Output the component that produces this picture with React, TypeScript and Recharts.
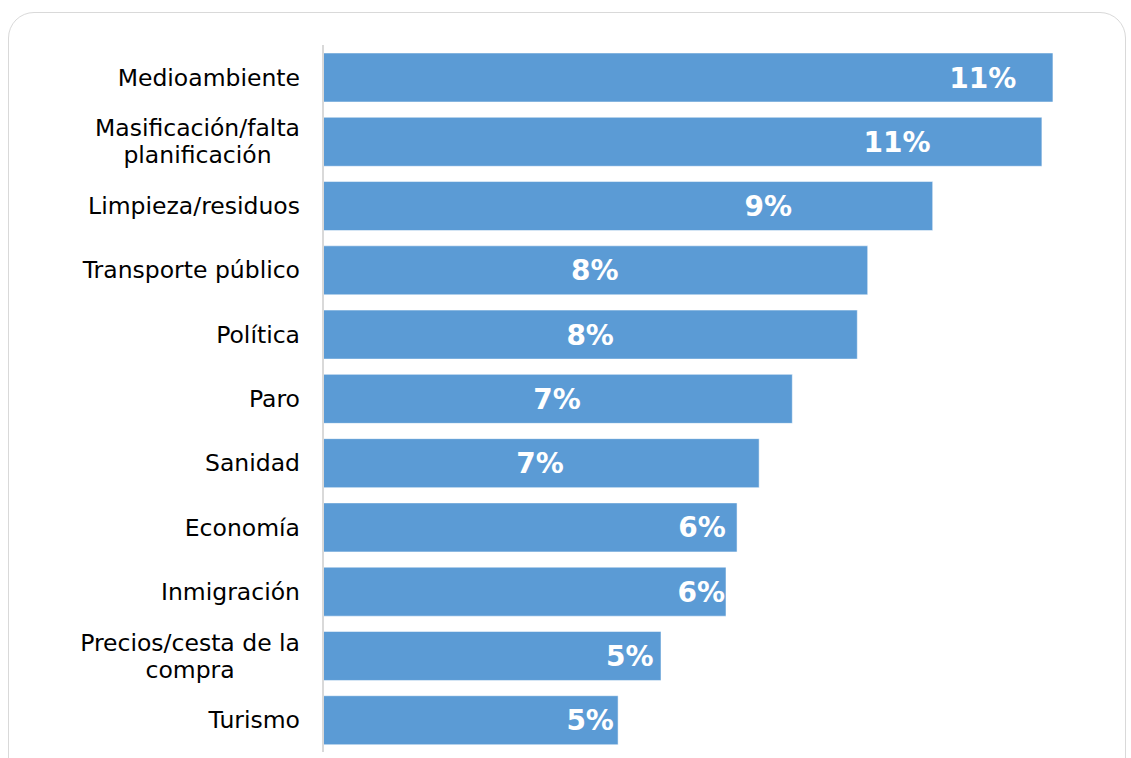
import { BarChart, Bar, XAxis, YAxis, LabelList } from 'recharts';

// Categories, top to bottom (line breaks where the label wraps)
const categories = [
  'Medioambiente',
  'Masificación/falta\nplanificación',
  'Limpieza/residuos',
  'Transporte público',
  'Política',
  'Paro',
  'Sanidad',
  'Economía',
  'Inmigración',
  'Precios/cesta de la\ncompra',
  'Turismo',
];

// Share of mentions (%)
const values = [11.23, 11.06, 9.38, 8.38, 8.22, 7.22, 6.71, 6.37, 6.2, 5.2, 4.54];

// Printed labels
const labels = ['11%', '11%', '9%', '8%', '8%', '7%', '7%', '6%', '6%', '5%', '5%'];

// Where each label sits along the bar, in value units
const labelAnchor = [10.15, 8.83, 6.85, 4.18, 4.11, 3.6, 3.34, 5.83, 5.82, 4.72, 4.11];

const chartData = categories.map((name, i) => ({
  name,
  value: values[i],
  label: labels[i],
  anchor: labelAnchor[i],
}));

const FONT = '"DejaVu Sans", Verdana, sans-serif';
const TICK_SIZE = 23.5;

let measureCtx: CanvasRenderingContext2D | null = null;
function textWidth(s: string) {
  if (!measureCtx) {
    measureCtx = document.createElement('canvas').getContext('2d');
  }
  if (!measureCtx) return s.length * TICK_SIZE * 0.6;
  measureCtx.font = `${TICK_SIZE}px ${FONT}`;
  return measureCtx.measureText(s).width;
}

// Right-aligned block, lines centred within it (like the original)
function CategoryTick(props: any) {
  const { x, y, payload } = props;
  const lines: string[] = String(payload.value).split('\n');
  const lineHeight = 27;
  const right = x - 15;
  const startY = y - ((lines.length - 1) * lineHeight) / 2;
  const blockW = Math.max(...lines.map(textWidth));
  const cx = right - blockW / 2;
  const multi = lines.length > 1;
  return (
    <text
      x={multi ? cx : right}
      y={startY}
      textAnchor={multi ? 'middle' : 'end'}
      fontFamily={FONT}
      fontSize={TICK_SIZE}
      fill="#000000"
    >
      {lines.map((line, i) => (
        <tspan key={i} x={multi ? cx : right} y={startY + i * lineHeight} dy="0.36em">
          {line}
        </tspan>
      ))}
    </text>
  );
}

function ValueLabel(props: any) {
  const { x, y, width, height, index } = props;
  const d = chartData[index];
  const cx = x + (width * d.anchor) / d.value;
  return (
    <text
      x={cx}
      y={y + height / 2}
      dy="0.36em"
      textAnchor="middle"
      fontFamily={FONT}
      fontWeight="bold"
      fontSize={28}
      fill="#ffffff"
    >
      {d.label}
    </text>
  );
}

export default function App() {
  return (
    <div style={{ position: 'relative', width: 1131, height: 758, overflow: 'hidden', background: '#ffffff' }}>
      <style>{'body{margin:0;overflow:hidden;}'}</style>
      <div
        style={{
          position: 'absolute',
          left: 8,
          top: 12,
          width: 1118,
          height: 800,
          border: '1.5px solid #d9d9d9',
          borderRadius: 26,
          boxSizing: 'border-box',
        }}
      />
      <div style={{ position: 'absolute', left: 0, top: 0 }}>
        <BarChart
          width={1131}
          height={764}
          data={chartData}
          layout="vertical"
          margin={{ top: 45, right: 28, bottom: 12, left: 0 }}
          barCategoryGap={15}
        >
          <XAxis type="number" domain={[0, 12]} hide />
          <YAxis
            type="category"
            dataKey="name"
            width={323}
            axisLine={{ stroke: '#d9d9d9', strokeWidth: 2 }}
            tickLine={false}
            tick={<CategoryTick />}
            interval={0}
          />
          <Bar
            dataKey="value"
            fill="#5b9bd5"
            stroke="#ffffff"
            strokeOpacity={0.5}
            strokeWidth={1}
            barSize={49}
            isAnimationActive={false}
          >
            <LabelList dataKey="label" content={<ValueLabel />} />
          </Bar>
        </BarChart>
      </div>
    </div>
  );
}
